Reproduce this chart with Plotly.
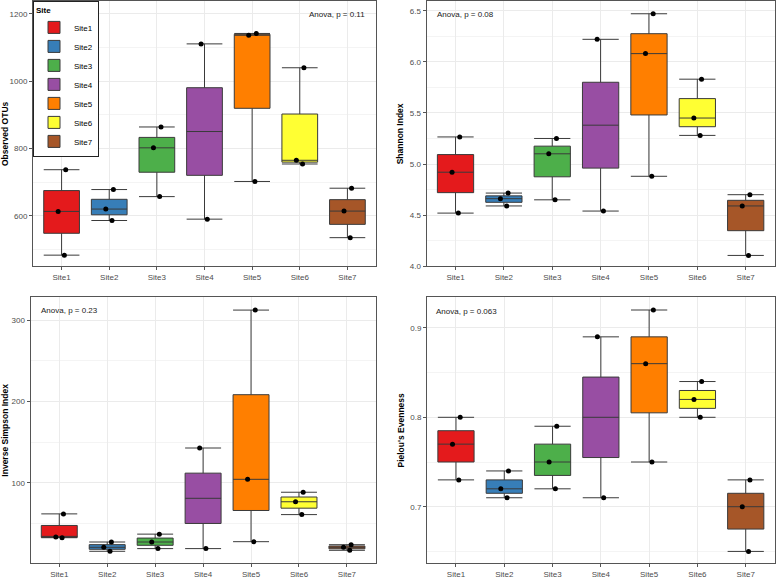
import numpy as np
import plotly.graph_objects as go

sites = ["Site1", "Site2", "Site3", "Site4", "Site5", "Site6", "Site7"]
colors = ["#E41A1C", "#377EB8", "#4DAF4A", "#984EA3", "#FF7F00", "#FFFF33", "#A65628"]

observed_otus = [[737, 613, 483], [678, 620, 586], [864, 802, 657], [1111, 590],
                 [1142, 1137, 702], [1040, 765, 754], [682, 614, 535]]
shannon = [[5.265, 4.92, 4.52], [4.716, 4.661, 4.59], [5.25, 5.10, 4.65], [6.22, 4.54],
           [6.47, 6.08, 4.88], [5.83, 5.45, 5.28], [4.70, 4.59, 4.106]]
inv_simpson = [[62.0, 33.5, 32.7], [27.4, 20.9, 16.0], [37.1, 27.4, 19.3], [143.0, 19.3],
               [312.6, 104.5, 27.8], [88.6, 76.9, 61.1], [24.1, 20.9, 17.2]]
pielou = [[0.80, 0.77, 0.73], [0.74, 0.72, 0.71], [0.79, 0.75, 0.72], [0.89, 0.71],
          [0.92, 0.86, 0.75], [0.84, 0.82, 0.80], [0.73, 0.70, 0.65]]

titles = ["Observed OTUs", "Shannon Index", "Inverse Simpson Index", "Pielou's Evenness"]
anova = ["Anova, p = 0.11", "Anova, p = 0.08", "Anova, p = 0.23", "Anova, p = 0.063"]
metrics = [observed_otus, shannon, inv_simpson, pielou]

W, H = 778, 586
FONT = "Liberation Sans, Arial, sans-serif"

# panel pixel boxes: (x0, x1, y0, y1)
panels = [(33, 376, 0.5, 268), (426.5, 774.7, 0.5, 268),
          (30.5, 375.7, 299.3, 568.3), (427, 774.7, 299.3, 568.3)]
yranges = [[450, 1237], [4.0, 6.59], [1.0, 328.4], [0.6365, 0.9343]]
ydticks = [200, 0.5, 100, 0.1]
yfmt = ["d", ".1f", "d", ".1f"]
ann_pos = [(307, 14), (435, 14), (39, 313), (434, 314)]
title_standoff = [4, 4, 6, 4]

fig = go.Figure()

for p, data in enumerate(metrics):
    xa = "x" if p == 0 else f"x{p+1}"
    ya = "y" if p == 0 else f"y{p+1}"
    for i, site in enumerate(sites):
        vals = np.array(data[i], dtype=float)
        q1, med, q3 = np.percentile(vals, [25, 50, 75])
        fig.add_trace(go.Box(
            x=[site], q1=[q1], median=[med], q3=[q3],
            lowerfence=[vals.min()], upperfence=[vals.max()],
            name=site, legendgroup=site, showlegend=(p == 0),
            fillcolor=colors[i], line=dict(color="#3a3a3a", width=1),
            width=0.75, whiskerwidth=1, boxpoints=False,
            xaxis=xa, yaxis=ya, hoverinfo="skip"))
        fig.add_trace(go.Box(
            x=[site] * len(vals), y=vals, name=site, showlegend=False,
            fillcolor="rgba(0,0,0,0)", line=dict(color="rgba(0,0,0,0)", width=0),
            width=0.75, boxpoints="all", jitter=0.3, pointpos=0,
            marker=dict(color="black", size=5),
            xaxis=xa, yaxis=ya, hoverinfo="skip"))

layout = dict(
    width=W, height=H, margin=dict(l=0, r=0, t=0, b=0),
    paper_bgcolor="white", plot_bgcolor="white",
    font=dict(family=FONT, size=8, color="#4D4D4D"),
    boxmode="overlay",
    legend=dict(x=33 / W, y=1 - 0.5 / H, xanchor="left", yanchor="top",
                bgcolor="white", bordercolor="#222222", borderwidth=1,
                title=dict(text="<b>Site</b>", font=dict(size=8, color="black")),
                font=dict(size=8, color="black"), tracegroupgap=0,
                itemwidth=30),
    annotations=[],
)

for p in range(4):
    x0, x1, y0, y1 = panels[p]
    sx = "" if p == 0 else str(p + 1)
    layout["xaxis" + sx] = dict(
        domain=[x0 / W, x1 / W], anchor="y" + sx,
        type="category", categoryorder="array", categoryarray=sites,
        range=[-0.6, 6.6], showgrid=True, gridcolor="#EBEBEB", gridwidth=1,
        showline=True, mirror=True, linecolor="#555555", linewidth=1,
        ticks="outside", ticklen=3, tickcolor="#555555",
        tickfont=dict(size=8, color="#4D4D4D"), zeroline=False)
    layout["yaxis" + sx] = dict(
        domain=[1 - y1 / H, 1 - y0 / H], anchor="x" + sx,
        range=yranges[p], dtick=ydticks[p], tickformat=yfmt[p],
        showgrid=True, gridcolor="#EBEBEB", gridwidth=1,
        minor=dict(showgrid=True, gridcolor="#F4F4F4", gridwidth=0.6,
                   dtick=ydticks[p] / 2),
        showline=True, mirror=True, linecolor="#555555", linewidth=1,
        ticks="outside", ticklen=3, tickcolor="#555555",
        tickfont=dict(size=8, color="#4D4D4D"), zeroline=False,
        title=dict(text="<b>" + titles[p] + "</b>", standoff=title_standoff[p],
                   font=dict(size=8.5, color="black")))
    ax, ay = ann_pos[p]
    layout["annotations"].append(dict(
        text=anova[p], xref="paper", yref="paper", x=ax / W, y=1 - ay / H,
        xanchor="left", yanchor="middle", showarrow=False,
        font=dict(size=8, color="#222222")))

fig.update_layout(**layout)
fig.write_html("out.html", config={"displayModeBar": False},
               post_script="document.body.style.margin='0';document.body.style.overflow='hidden';")
